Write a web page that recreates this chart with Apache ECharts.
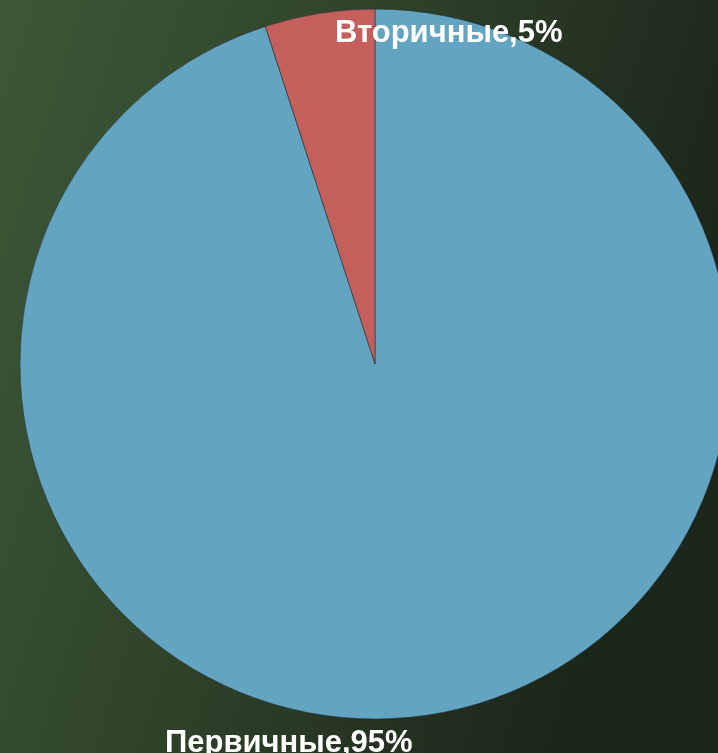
<!DOCTYPE html>
<html>
<head>
<meta charset="utf-8">
<script src="https://cdn.jsdelivr.net/npm/echarts@6/dist/echarts.min.js"></script>
<style>
html,body{margin:0;padding:0;width:718px;height:753px;overflow:hidden;}
#chart{width:718px;height:753px;}
</style>
</head>
<body>
<div id="chart"></div>
<script>
const categories = ['Первичные', 'Вторичные'];
const values = [95, 5];
const colors = ['#63a5c0', '#c55f5c'];

const chart = echarts.init(document.getElementById('chart'), null, {renderer: 'canvas'});
const labelSpots = {
  'Первичные': {x: 165, y: 743},
  'Вторичные': {x: 335, y: 33}
};
chart.setOption({
  animation: false,
  backgroundColor: {
    type: 'linear', x: 0, y: 0, x2: 1, y2: 0.3,
    colorStops: [
      {offset: 0, color: '#3d5837'},
      {offset: 0.5, color: '#2e4229'},
      {offset: 1, color: '#1c261a'}
    ]
  },
  series: [{
    type: 'pie',
    center: [375, 364],
    radius: 355,
    startAngle: 90,
    clockwise: true,
    silent: true,
    itemStyle: {borderColor: 'rgba(35,45,60,0.55)', borderWidth: 1},
    label: {
      show: true,
      formatter: '{b},{c}%',
      color: '#ffffff',
      fontFamily: 'Liberation Sans, Arial, sans-serif',
      fontWeight: 'bold',
      fontSize: 31,
      overflow: 'none',
      edgeDistance: 0,
      bleedMargin: 0
    },
    labelLine: {show: false},
    labelLayout: function (p) {
      const spot = labelSpots[categories[p.dataIndex]];
      return {x: spot.x, y: spot.y, align: 'left', verticalAlign: 'middle', hideOverlap: false};
    },
    data: categories.map((c, i) => ({name: c, value: values[i], itemStyle: {color: colors[i]}}))
  }]
});
</script>
</body>
</html>
